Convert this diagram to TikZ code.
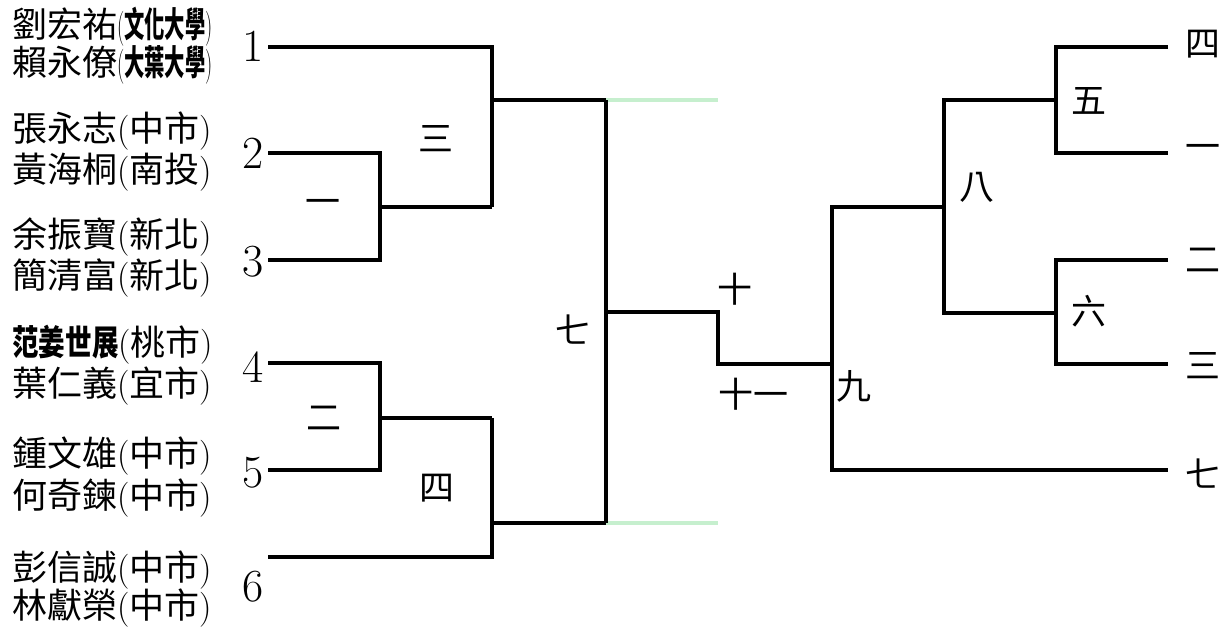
\documentclass[tikz,border=0pt]{standalone}
\usepackage{fontspec}
\usepackage{graphicx}
\newfontfamily\cjk{Noto Sans CJK TC}
\newcommand\nm[2]{{\cjk #1}({\cjk #2})}
\newcommand\cnd[2]{\scalebox{#1}[1]{#2}}
\begin{document}
\begin{tikzpicture}[x=1pt,y=-1pt,
  bline/.style={line width=3.3pt, line join=miter},
  gline/.style={line width=3.3pt, draw={rgb,255:red,198;green,239;blue,206}},
  who/.style={anchor=west, inner sep=0pt, font=\fontsize{35}{40}\selectfont},
  num/.style={inner sep=0pt, font=\fontsize{46}{50}\selectfont},
  lab/.style={inner sep=0pt, font=\cjk\fontsize{35}{40}\selectfont}]
\useasboundingbox (0,0) rectangle (1231,633);

% ---- names ----
\node[who] (n1a) at (12,27) {{\cjk 劉宏祐}\cnd{0.58}{({\cjk\bfseries 文化大學})}};
\node[who] (n1b) at (12,65) {{\cjk 賴永僚}\cnd{0.58}{({\cjk\bfseries 大葉大學})}};
\node[who] (n2a) at (12,131) {\nm{張永志}{中市}};
\node[who] (n2b) at (12,172) {\nm{黃海桐}{南投}};
\node[who] (n3a) at (12,237) {\nm{余振寶}{新北}};
\node[who] (n3b) at (12,278) {\nm{簡清富}{新北}};
\node[who] (n4a) at (12,345) {\cnd{0.76}{\cjk\bfseries 范姜世展}\nm{}{桃市}};
\node[who] (n4b) at (12,386) {\nm{葉仁義}{宜市}};
\node[who] (n5a) at (12,456) {\nm{鍾文雄}{中市}};
\node[who] (n5b) at (12,498) {\nm{何奇鍊}{中市}};
\node[who] (n6a) at (12,570) {\nm{彭信誠}{中市}};
\node[who] (n6b) at (12,608) {\nm{林獻榮}{中市}};

% ---- seed numbers ----
\node[num] (s1) at (253,46) {1};
\node[num] (s2) at (253,153) {2};
\node[num] (s3) at (253,262) {3};
\node[num] (s4) at (253,367) {4};
\node[num] (s5) at (253,473) {5};
\node[num] (s6) at (253,587) {6};

% ---- coordinates ----
\coordinate (p1) at (268,47);
\coordinate (p2) at (268,153);
\coordinate (p3) at (268,260);
\coordinate (p4) at (268,363);
\coordinate (p5) at (268,470);
\coordinate (p6) at (268,557);
\coordinate (a1) at (492,47);
\coordinate (b2) at (380,153);
\coordinate (b3) at (380,260);
\coordinate (b23) at (380,207);
\coordinate (c23) at (492,207);
\coordinate (b4) at (380,363);
\coordinate (b5) at (380,470);
\coordinate (b45) at (380,418);
\coordinate (c45) at (492,418);
\coordinate (a6) at (492,557);
\coordinate (d1) at (492,100);
\coordinate (d2) at (492,523);
\coordinate (e1) at (606,100);
\coordinate (e2) at (606,523);
\coordinate (g1) at (718,100);
\coordinate (g2) at (718,523);
\coordinate (em) at (606,312);
\coordinate (f1) at (718,312);
\coordinate (f2) at (718,364);
\coordinate (r9) at (832,364);
\coordinate (r9t) at (832,207);
\coordinate (r9b) at (832,470);
\coordinate (q7) at (1168,470);
\coordinate (r8) at (944,207);
\coordinate (r8t) at (944,100);
\coordinate (r8b) at (944,313);
\coordinate (r5) at (1056,100);
\coordinate (r5t) at (1056,47);
\coordinate (r5b) at (1056,153);
\coordinate (r6) at (1056,313);
\coordinate (r6t) at (1056,260);
\coordinate (r6b) at (1056,364);
\coordinate (q4) at (1168,47);
\coordinate (q1) at (1168,153);
\coordinate (q2) at (1168,260);
\coordinate (q3) at (1168,364);

% ---- left bracket ----
\draw[bline] (p2) -- (b2) -- (b3) -- (p3);
\draw[bline] (b23) -- (c23);
\draw[bline] (p1) -- (a1) -- (c23);
\draw[bline] (d1) -- (e1);
\draw[bline] (p4) -- (b4) -- (b5) -- (p5);
\draw[bline] (b45) -- (c45);
\draw[bline] (p6) -- (a6) -- (c45);
\draw[bline] (d2) -- (e2);
\draw[gline] (e1) -- (g1);
\draw[gline] (e2) -- (g2);
\draw[bline] (e1) -- (e2);
\draw[bline] (em) -- (f1) -- (f2) -- (r9);

% ---- right bracket ----
\draw[bline] (r8) -- (r9t) -- (r9b) -- (q7);
\draw[bline] (r5) -- (r8t) -- (r8b) -- (r6);
\draw[bline] (q4) -- (r5t) -- (r5b) -- (q1);
\draw[bline] (q2) -- (r6t) -- (r6b) -- (q3);

% ---- match labels ----
\node[lab] (m1) at (323,207) {一};
\node[lab] (m2) at (324,418) {二};
\node[lab] (m3) at (436,139) {三};
\node[lab] (m4) at (437,488) {四};
\node[lab] (m7) at (573,330) {七};
\node[lab] (m10) at (735,289) {十};
\node[lab] (m11) at (753,394) {十一};
\node[lab] (m5) at (1089,101) {五};
\node[lab] (m8) at (977,187) {八};
\node[lab] (m6) at (1089,311) {六};
\node[lab] (m9) at (854,386) {九};

% ---- right side labels ----
\node[lab] (o4) at (1203,44) {四};
\node[lab] (o1) at (1203,152) {一};
\node[lab] (o2) at (1203,260) {二};
\node[lab] (o3) at (1203,366) {三};
\node[lab] (o7) at (1203,474) {七};
\end{tikzpicture}
\end{document}
